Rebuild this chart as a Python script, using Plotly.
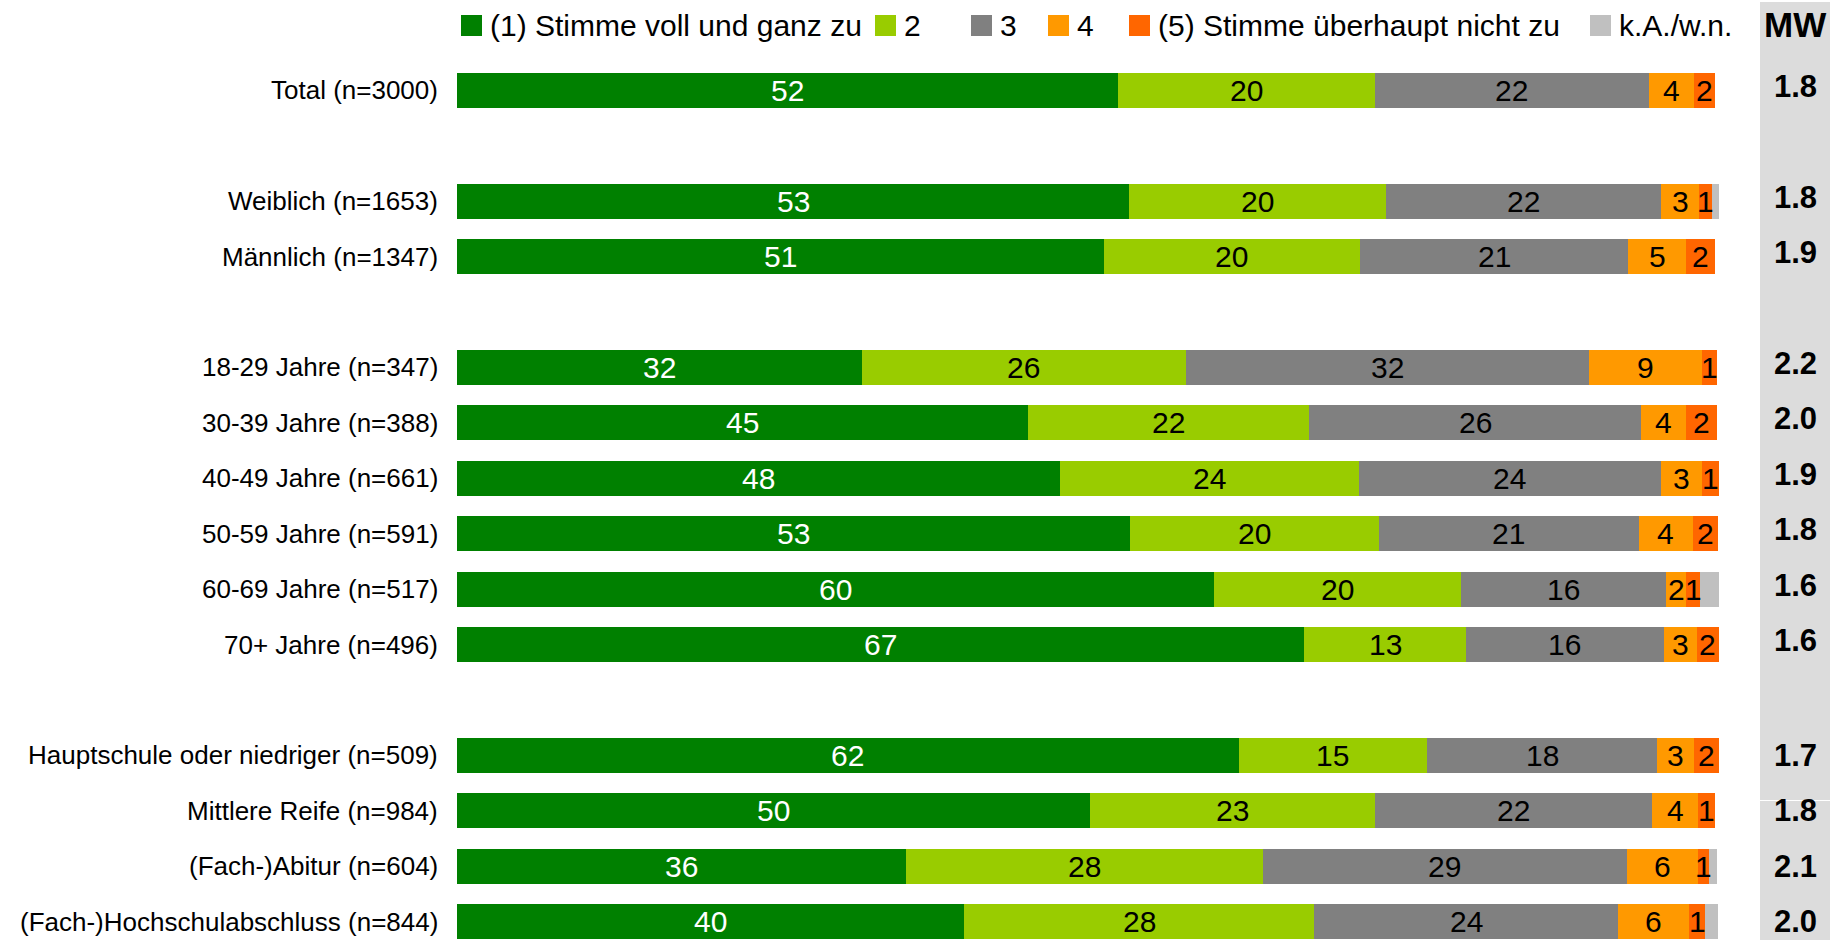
import plotly.graph_objects as go

# ---------------- data ----------------
categories = [
    "Total (n=3000)",
    "Weiblich (n=1653)",
    "Männlich (n=1347)",
    "18-29 Jahre (n=347)",
    "30-39 Jahre (n=388)",
    "40-49 Jahre (n=661)",
    "50-59 Jahre (n=591)",
    "60-69 Jahre (n=517)",
    "70+ Jahre (n=496)",
    "Hauptschule oder niedriger (n=509)",
    "Mittlere Reife (n=984)",
    "(Fach-)Abitur (n=604)",
    "(Fach-)Hochschulabschluss (n=844)",
]
groups = [0, 1, 1, 2, 2, 2, 2, 2, 2, 3, 3, 3, 3]

series_names = ["(1) Stimme voll und ganz zu", "2", "3", "4",
                "(5) Stimme überhaupt nicht zu", "k.A./w.n."]
s1 = [52.4, 53.3, 51.3, 32.1, 45.3, 47.8, 53.4, 60.0, 67.2, 62.0, 50.2, 35.6, 40.2]
s2 = [20.4, 20.4, 20.3, 25.7, 22.3, 23.7, 19.7, 19.6, 12.8, 14.9, 22.6, 28.3, 27.8]
s3 = [21.7, 21.8, 21.3, 32.0, 26.3, 24.0, 20.6, 16.3, 15.7, 18.3, 22.0, 28.9, 24.1]
s4 = [3.6, 3.0, 4.6, 8.9, 3.6, 3.2, 4.3, 1.6, 2.6, 2.9, 3.6, 5.6, 5.6]
s5 = [1.7, 1.0, 2.3, 1.2, 2.4, 1.35, 2.0, 1.1, 1.8, 2.0, 1.4, 0.9, 1.3]
ka = [0.0, 0.55, 0.0, 0.0, 0.0, 0.0, 0.0, 1.5, 0.0, 0.0, 0.0, 0.6, 1.0]
mw = [1.8, 1.8, 1.9, 2.2, 2.0, 1.9, 1.8, 1.6, 1.6, 1.7, 1.8, 2.1, 2.0]
mw_title = "MW"

# ---------------- style ----------------
colors = ["#008000", "#99CC00", "#808080", "#FF9900", "#FF6600", "#C0C0C0"]
label_colors = ["white", "black", "black", "black", "black", None]
FONT = "Liberation Sans, Arial, sans-serif"

W, H = 1841, 940
L = 457            # left edge of bars (px)
PX_PER_PCT = 12.61
ROW0 = 90.4        # centre of first row (px)
ROW_STEP = 55.41   # px per row slot


def xp(px):
    return (px - L) / (W - L)


def yp(py):
    return 1 - py / H


y_pos = [i + g for i, g in enumerate(groups)]
series = [s1, s2, s3, s4, s5, ka]

fig = go.Figure()
for name, vals, col in zip(series_names, series, colors):
    fig.add_trace(go.Bar(
        y=y_pos, x=vals, orientation="h", name=name,
        marker=dict(color=col, line=dict(width=0)),
        width=0.632, hoverinfo="skip", showlegend=False,
    ))

annotations = []
shapes = []

# value labels inside segments
for r, yv in enumerate(y_pos):
    cum = 0.0
    for k, vals in enumerate(series):
        v = vals[r]
        if label_colors[k] is not None and v > 0:
            annotations.append(dict(
                x=cum + v / 2, y=yv, xref="x", yref="y", text=f"{v:.0f}",
                showarrow=False, xanchor="center", yanchor="middle",
                font=dict(family=FONT, size=30, color=label_colors[k]),
            ))
        cum += v

# category labels
for cat, yv in zip(categories, y_pos):
    annotations.append(dict(
        x=xp(440), y=yv, xref="paper", yref="y", text=cat, showarrow=False,
        xanchor="right", yanchor="middle",
        font=dict(family=FONT, size=26, color="black"),
    ))

# MW column
shapes.append(dict(type="rect", xref="paper", yref="paper",
                   x0=xp(1760), x1=xp(1830), y0=yp(2), y1=yp(800),
                   fillcolor="#DCDCDC", line=dict(width=0), layer="below"))
shapes.append(dict(type="rect", xref="paper", yref="paper",
                   x0=xp(1760), x1=xp(1830), y0=yp(801), y1=yp(942),
                   fillcolor="#DCDCDC", line=dict(width=0), layer="below"))
annotations.append(dict(
    x=xp(1795), y=yp(25), xref="paper", yref="paper", text=f"<b>{mw_title}</b>",
    showarrow=False, xanchor="center", yanchor="middle",
    font=dict(family=FONT, size=35, color="black"),
))
for m, yv, g in zip(mw, y_pos, groups):
    annotations.append(dict(
        x=xp(1795), y=yv, xref="paper", yref="y", text=f"<b>{m:.1f}</b>",
        showarrow=False, xanchor="center", yanchor="middle",
        yshift=4 if g < 3 else 0,
        font=dict(family=FONT, size=31, color="black"),
    ))

# custom legend
sq_x = [461, 875, 971, 1048, 1129, 1590]
for name, col, sx in zip(series_names, colors, sq_x):
    shapes.append(dict(type="rect", xref="paper", yref="paper",
                       x0=xp(sx), x1=xp(sx + 21), y0=yp(36), y1=yp(15),
                       fillcolor=col, line=dict(width=0)))
    annotations.append(dict(
        x=xp(sx + 27), y=yp(26), xref="paper", yref="paper", text=name,
        showarrow=False, xanchor="left", yanchor="middle",
        font=dict(family=FONT, size=30, color="black"),
    ))

fig.update_layout(
    width=W, height=H,
    margin=dict(l=L, r=0, t=0, b=0),
    paper_bgcolor="white", plot_bgcolor="rgba(0,0,0,0)",
    barmode="stack", bargap=0,
    xaxis=dict(range=[0, (W - L) / PX_PER_PCT], visible=False, fixedrange=True),
    yaxis=dict(range=[(H - ROW0) / ROW_STEP, -ROW0 / ROW_STEP], visible=False,
               fixedrange=True),
    annotations=annotations, shapes=shapes, showlegend=False,
)

fig.write_html("out.html", config={"displayModeBar": False},
               post_script="document.body.style.margin='0';document.body.style.overflow='hidden';")
